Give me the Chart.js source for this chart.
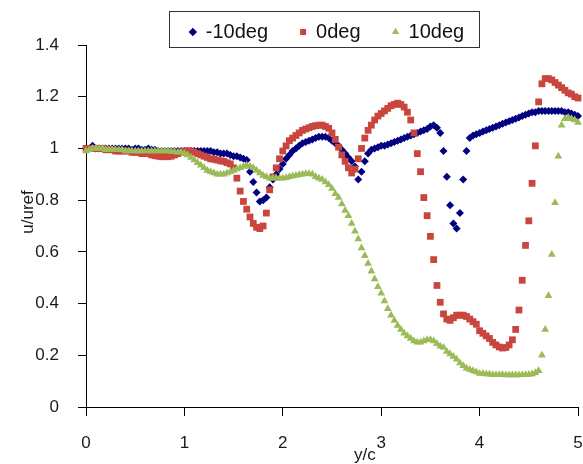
<!DOCTYPE html>
<html>
<head>
<meta charset="utf-8">
<script src="https://cdn.jsdelivr.net/npm/chart.js@4/dist/chart.umd.min.js"></script>
<style>
  html, body { margin: 0; padding: 0; background: #fff; }
  #wrap { width: 583px; height: 464px; }
</style>
</head>
<body>
<div id="wrap"><canvas id="myChart" width="583" height="464"></canvas></div>
<script>
'use strict';

// samples are taken every 1/30 of y/c, starting at 0
const xStep = 1 / 30;

const seriesNames = ['-10deg', '0deg', '10deg'];

const minus10 = [
  1.00, 1.00, 1.01, 1.00, 1.00, 1.00, 1.00, 1.00, 1.00, 1.00,
  1.00, 1.00, 1.00, 1.00, 0.995, 1.00, 1.00, 0.995, 0.995, 1.00,
  0.995, 0.995, 0.99, 0.99, 0.99, 0.99, 0.99, 0.99, 0.99, 0.99,
  0.99, 0.99, 0.99, 0.99, 0.99, 0.99, 0.99, 0.99, 0.99, 0.985,
  0.985, 0.98, 0.98, 0.98, 0.975, 0.97, 0.97, 0.965, 0.96, 0.955,
  0.91, 0.87, 0.83, 0.795, 0.80, 0.81, 0.85, 0.88, 0.90, 0.92,
  0.94, 0.96, 0.975, 0.99, 1.00, 1.01, 1.02, 1.025, 1.03, 1.035,
  1.04, 1.045, 1.045, 1.045, 1.04, 1.03, 1.02, 1.01, 0.995, 0.98,
  0.965, 0.95, 0.93, 0.88, 0.91, 0.95, 0.98, 0.995, 1.00, 1.005,
  1.01, 1.01, 1.015, 1.02, 1.025, 1.03, 1.035, 1.04, 1.045, 1.05,
  1.055, 1.06, 1.065, 1.07, 1.075, 1.085, 1.09, 1.08, 1.06, 0.99,
  0.89, 0.78, 0.71, 0.69, 0.75, 0.88, 0.99, 1.04, 1.05, 1.055,
  1.06, 1.065, 1.07, 1.075, 1.08, 1.085, 1.09, 1.095, 1.10, 1.105,
  1.11, 1.115, 1.12, 1.125, 1.13, 1.135, 1.14, 1.14, 1.145, 1.145,
  1.145, 1.145, 1.145, 1.145, 1.145, 1.145, 1.14, 1.14, 1.135, 1.13,
  1.125, 1.12, 1.12
];

const zero = [
  1.00, 1.00, 1.00, 1.00, 1.00, 1.00, 0.995, 0.995, 0.995, 0.99,
  0.99, 0.99, 0.99, 0.99, 0.985, 0.985, 0.985, 0.98, 0.98, 0.98,
  0.975, 0.972, 0.97, 0.968, 0.968, 0.968, 0.97, 0.975, 0.98, 0.985,
  0.99, 0.99, 0.99, 0.985, 0.98, 0.975, 0.97, 0.965, 0.96, 0.958,
  0.955, 0.952, 0.95, 0.945, 0.94, 0.925, 0.885, 0.835, 0.795, 0.765,
  0.735, 0.71, 0.695, 0.69, 0.70, 0.75, 0.84, 0.89, 0.925, 0.96,
  0.99, 1.01, 1.03, 1.04, 1.05, 1.06, 1.07, 1.075, 1.08, 1.085,
  1.088, 1.09, 1.09, 1.085, 1.078, 1.06, 1.035, 1.005, 0.975, 0.95,
  0.925, 0.905, 0.92, 0.96, 1.00, 1.04, 1.07, 1.09, 1.11, 1.125,
  1.135, 1.145, 1.155, 1.165, 1.17, 1.175, 1.17, 1.16, 1.14, 1.11,
  1.06, 0.98, 0.91, 0.81, 0.74, 0.66, 0.57, 0.47, 0.405, 0.36,
  0.34, 0.335, 0.345, 0.355, 0.355, 0.355, 0.35, 0.34, 0.33, 0.32,
  0.295, 0.285, 0.275, 0.265, 0.25, 0.24, 0.232, 0.228, 0.23, 0.24,
  0.26, 0.30, 0.375, 0.49, 0.625, 0.72, 0.865, 1.01, 1.18, 1.25,
  1.27, 1.27, 1.265, 1.255, 1.245, 1.235, 1.225, 1.215, 1.21, 1.20,
  1.195, 1.19, 1.185
];

const plus10 = [
  0.99, 0.995, 1.00, 1.00, 1.00, 1.00, 0.995, 0.995, 0.995, 0.995,
  0.995, 0.995, 0.99, 0.99, 0.99, 0.99, 0.99, 0.99, 0.99, 0.99,
  0.99, 0.99, 0.99, 0.99, 0.99, 0.99, 0.988, 0.988, 0.985, 0.985,
  0.98, 0.975, 0.965, 0.955, 0.945, 0.935, 0.925, 0.915, 0.91, 0.905,
  0.90, 0.90, 0.90, 0.905, 0.91, 0.915, 0.92, 0.925, 0.93, 0.935,
  0.93, 0.925, 0.915, 0.905, 0.895, 0.89, 0.885, 0.885, 0.885, 0.885,
  0.885, 0.887, 0.89, 0.893, 0.895, 0.898, 0.90, 0.902, 0.902, 0.90,
  0.89, 0.885, 0.88, 0.87, 0.86, 0.845, 0.825, 0.81, 0.785, 0.76,
  0.74, 0.71, 0.68, 0.65, 0.615, 0.585, 0.555, 0.525, 0.495, 0.465,
  0.44, 0.41, 0.38, 0.355, 0.335, 0.315, 0.30, 0.285, 0.275, 0.265,
  0.255, 0.25, 0.25, 0.255, 0.26, 0.26, 0.255, 0.245, 0.235, 0.23,
  0.215, 0.205, 0.195, 0.185, 0.17, 0.16, 0.15, 0.145, 0.14, 0.135,
  0.13, 0.13, 0.128, 0.127, 0.125, 0.125, 0.125, 0.125, 0.124, 0.124,
  0.124, 0.124, 0.124, 0.125, 0.125, 0.126, 0.128, 0.132, 0.14, 0.20,
  0.30, 0.43, 0.59, 0.79, 0.97, 1.09, 1.115, 1.12, 1.115, 1.11,
  1.10, 1.095, 1.09
];

const xTicks = [0, 1, 2, 3, 4, 5];
const yTicks = [0, 0.2, 0.4, 0.6, 0.8, 1, 1.2, 1.4];

const toPoints = function(values){
  return values.map(function(v, i){ return { x: i * xStep, y: v }; });
};

Chart.defaults.font.family = '"Liberation Sans", Arial, sans-serif';
Chart.defaults.color = '#1a1a1a';

// legend nudge, legend frame and the two axis titles
const extras = {
  id: 'extras',
  afterLayout(chart){
    const lg = chart.legend;
    lg.left += 38;
    lg.right += 38;
    lg.top += 7;
    lg.bottom += 7;
  },
  afterDraw(chart){
    const ctx = chart.ctx;
    const area = chart.chartArea;
    const boxes = chart.legend.legendHitBoxes;
    if (boxes && boxes.length){
      const l = Math.min.apply(null, boxes.map(b => b.left));
      const r = Math.max.apply(null, boxes.map(b => b.left + b.width));
      const t = boxes[0].top;
      const h = boxes[0].height;
      ctx.save();
      ctx.strokeStyle = '#333';
      ctx.lineWidth = 1;
      ctx.strokeRect(Math.round(l - 21) + 0.5, Math.round(t - 11) + 0.5, Math.round(r - l + 36), Math.round(h + 16));
      ctx.restore();
    }
    ctx.save();
    ctx.fillStyle = '#1a1a1a';
    ctx.font = '17px "Liberation Sans", Arial, sans-serif';
    ctx.textAlign = 'center';
    ctx.textBaseline = 'middle';
    ctx.fillText('y/c', area.left + (area.right - area.left) * 0.567, area.bottom + 48);
    ctx.translate(area.left - 58, area.top + 167);
    ctx.rotate(-Math.PI / 2);
    ctx.fillText('u/uref', 0, 0);
    ctx.restore();
  }
};

const ctx = document.getElementById('myChart').getContext('2d');
const chart = new Chart(ctx, {
  type: 'scatter',
  data: {
    datasets: [{
      label: seriesNames[0],
      data: toPoints(minus10),
      pointStyle: 'rectRot',
      pointRadius: 4,
      backgroundColor: '#000080',
      borderColor: '#000080',
      borderWidth: 0,
      order: 3
    },
    {
      label: seriesNames[1],
      data: toPoints(zero),
      pointStyle: 'rect',
      pointRadius: 4.8,
      backgroundColor: '#C9463F',
      borderColor: '#C9463F',
      borderWidth: 0,
      order: 2
    },
    {
      label: seriesNames[2],
      data: toPoints(plus10),
      pointStyle: 'triangle',
      pointRadius: 4.5,
      backgroundColor: '#9BBB59',
      borderColor: '#9BBB59',
      borderWidth: 0,
      order: 1
    }]
  },
  options: {
    responsive: false,
    animation: false,
    layout: { padding: { left: 0, right: 5, top: -17, bottom: 0 } },
    plugins: {
      tooltip: { enabled: false },
      legend: {
        position: 'top',
        labels: {
          usePointStyle: true,
          boxWidth: 6,
          boxHeight: 6,
          padding: 32,
          font: { size: 20 },
          color: '#111',
          sort: function(a, b){ return a.datasetIndex - b.datasetIndex; }
        }
      }
    },
    scales: {
      x: {
        type: 'linear',
        min: 0,
        max: 5,
        afterBuildTicks: function(scale){ scale.ticks = xTicks.map(v => ({ value: v })); },
        afterFit: function(scale){
          scale.height = 57;
          scale.paddingLeft = 0;
          scale.paddingRight = 0;
        },
        ticks: { padding: 17, font: { size: 17 }, color: '#1a1a1a' },
        grid: { drawOnChartArea: false, drawTicks: true, tickLength: 9, color: '#000' },
        border: { display: true, color: '#000', width: 1 }
      },
      y: {
        min: 0,
        max: 1.4,
        afterBuildTicks: function(scale){ scale.ticks = yTicks.map(v => ({ value: v })); },
        afterFit: function(scale){
          scale.width = 86;
          scale.paddingTop = 0;
          scale.paddingBottom = 0;
        },
        ticks: {
          padding: 19,
          font: { size: 17 },
          color: '#1a1a1a',
          callback: function(v){ return String(Math.round(v * 10) / 10); }
        },
        grid: { drawOnChartArea: false, drawTicks: true, tickLength: 8, color: '#000' },
        border: { display: true, color: '#000', width: 1 }
      }
    },
    datasets: { scatter: { clip: 8 } }
  },
  plugins: [extras]
});
</script>
</body>
</html>
